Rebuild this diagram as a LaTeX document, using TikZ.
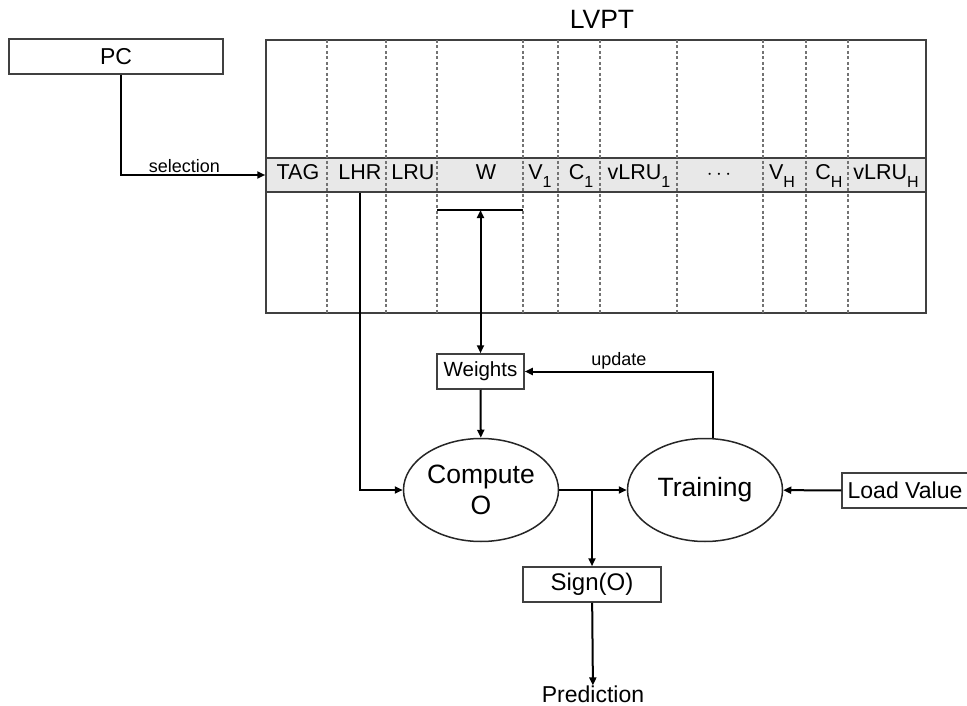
\documentclass[tikz,border=0pt]{standalone}
\usepackage{fontspec}
\setmainfont{Liberation Sans}
\usetikzlibrary{arrows.meta, positioning, shapes.geometric}
\newcommand{\lowsub}[1]{\raisebox{-7pt}{\fontsize{16}{16}\selectfont #1}}

\begin{document}
\begin{tikzpicture}[
  x=1pt, y=-1pt,
  box/.style={draw=black!75, line width=1.5pt, minimum height=35pt, inner sep=2pt},
  oval/.style={draw=black!85, line width=1.5pt, ellipse, minimum width=155pt, minimum height=103pt, inner sep=0pt, align=center, font=\fontsize{26.5}{31}\selectfont},
  cell/.style={anchor=base, inner sep=0pt, font=\fontsize{21.5}{25}\selectfont},
  sep/.style={draw=black!55, line width=1.3pt, dash pattern=on 3pt off 2.5pt},
  arrow/.style={-{Triangle[length=8pt, width=7pt]}, line width=2pt},
  biarrow/.style={{Triangle[length=8pt, width=7pt]}-{Triangle[length=8pt, width=7pt]}, line width=2pt},
  lbl/.style={font=\fontsize{18}{20}\selectfont, inner sep=1.5pt}
]
\useasboundingbox (0,0) rectangle (967,706);

% table with its selected row
\node[box, minimum width=660pt, minimum height=273pt] (lvpt) at (596,176.5) {};
\node[font=\fontsize{26.5}{30}\selectfont, inner sep=0pt] (title) at (602,19.5) {LVPT};
\node[box, fill=black!9, minimum width=660pt, minimum height=34pt, inner sep=0pt] (row) at (596,175) {};
\foreach \x in {327,386,437,523,558,600,677,763,806,848}
  \draw[sep] (\x,40) -- (\x,313);
\foreach \x/\t/\n in {298/TAG/tag, 360/LHR/lhr, 413/LRU/lru, 486/W/w,
    540/V\lowsub{1}/v1, 581/C\lowsub{1}/c1, 639/vLRU\lowsub{1}/vlru1,
    719/$\cdots$/dots, 782/V\lowsub{H}/vh, 829/C\lowsub{H}/ch, 886/vLRU\lowsub{H}/vlruh}
  \node[cell] (\n) at (\x,180) {\t};
\coordinate (wl) at (437,210);
\coordinate (wr) at (523,210);

% blocks
\node[box, minimum width=214pt, font=\fontsize{23}{26}\selectfont] (pc) at (116,56.5) {PC};
\node[box, minimum width=87pt, font=\fontsize{20.5}{24}\selectfont] (weights) at (480.5,371.5) {Weights};
\node[oval] (compute) at (481,490) {Compute\\O};
\node[oval] (training) at (705,490) {Training};
\node[box, minimum width=126pt, font=\fontsize{23}{26}\selectfont] (load) at (905,490.5) {Load Value};
\node[box, minimum width=138pt, font=\fontsize{24}{27}\selectfont] (sign) at (592,584.5) {Sign(O)};
\node[font=\fontsize{23}{26}\selectfont, inner sep=0pt] (pred) at (593,694) {Prediction};
\coordinate (split) at (compute.east -| sign.north);

% connectors
\draw[arrow] ([xshift=5pt]pc.south) |- node[lbl, pos=0.72, above] {selection} (row.west);
\draw[line width=2pt] (wl) -- (wr);
\draw[biarrow] (weights.north) -- (weights.north |- wl);
\draw[arrow] (lhr |- row.south) |- (compute.west);
\draw[arrow] (weights) -- (compute);
\draw[arrow] (compute) -- (training);
\draw[arrow] (split) -- (sign);
\draw[arrow] (sign) -- (pred);
\draw[arrow] ([xshift=8pt]training.north) |- node[lbl, pos=0.75, above] {update} (weights.east);
\draw[arrow] (load) -- (training);
\end{tikzpicture}
\end{document}
